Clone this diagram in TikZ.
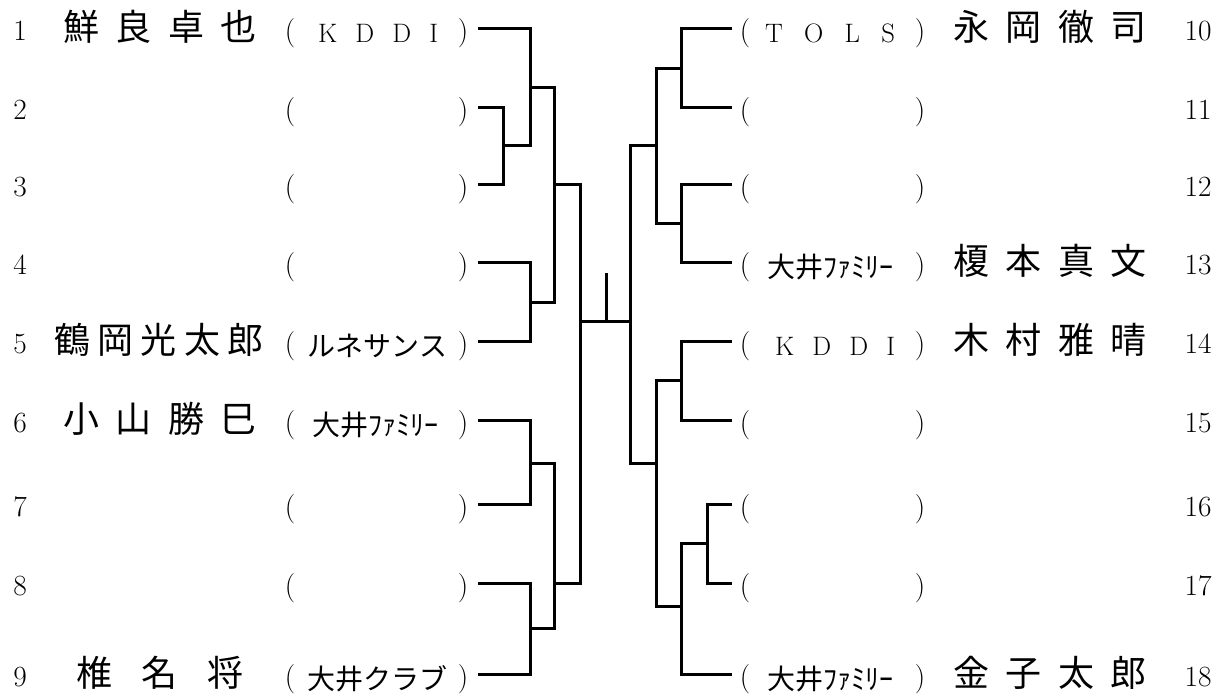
\documentclass[tikz,border=0pt]{standalone}
\usepackage{fontspec}
\newfontfamily\jp{Noto Sans CJK JP}
\begin{document}
\begin{tikzpicture}[x=0.75pt,y=-0.75pt,
  br/.style={line width=2.25pt, line join=miter},
  num/.style={inner sep=0pt, font=\fontsize{22}{26}\selectfont},
  nm/.style={inner sep=0pt, font=\jp\fontsize{27}{32}\selectfont},
  cl/.style={inner sep=0pt, font=\jp\fontsize{21}{25}\selectfont},
  lat/.style={inner sep=0pt, font=\fontsize{20}{24}\selectfont},
  par/.style={inner sep=0pt, font=\fontsize{22}{26}\selectfont}]
\useasboundingbox (0,0) rectangle (1226,693);
% left rows
\foreach \i/\y in {1/28,2/107,3/184,4/262,5/341,6/420,7/504,8/583,9/674}{
  \node[num] (num\i) at (20,\y+3) {\i};
  \node[par] (pl\i) at (290,\y+5) {(};
  \node[par] (pr\i) at (463,\y+5) {)};
  \coordinate (e\i) at (478,\y);
}
% right rows
\foreach \i/\y in {10/28,11/107,12/184,13/262,14/341,15/420,16/504,17/583,18/674}{
  \node[num] (num\i) at (1198,\y+3) {\i};
  \node[par] (pl\i) at (745,\y+5) {(};
  \node[par] (pr\i) at (920,\y+5) {)};
  \coordinate (f\i) at (732,\y);
}
% names left
\node[nm] (nm1) at (160,27) {\makebox[145.5pt]{鮮\hfill 良\hfill 卓\hfill 也}};
\node[nm] (nm5) at (159,340) {\makebox[157.5pt]{鶴\hfill 岡\hfill 光\hfill 太\hfill 郎}};
\node[nm] (nm6) at (160,419) {\makebox[145.5pt]{小\hfill 山\hfill 勝\hfill 巳}};
\node[nm] (nm9) at (160,673) {\makebox[126pt]{椎\hfill 名\hfill 将}};
% names right
\node[nm] (nm10) at (1050,27) {\makebox[145.5pt]{永\hfill 岡\hfill 徹\hfill 司}};
\node[nm] (nm13) at (1050,261) {\makebox[145.5pt]{榎\hfill 本\hfill 真\hfill 文}};
\node[nm] (nm14) at (1050,340) {\makebox[145.5pt]{木\hfill 村\hfill 雅\hfill 晴}};
\node[nm] (nm18) at (1050,673) {\makebox[145.5pt]{金\hfill 子\hfill 太\hfill 郎}};
% clubs left
\node[lat] (cl1) at (378,33) {\makebox[90pt]{K\hfill D\hfill D\hfill I}};
\node[cl] (cl5) at (377,346) {\makebox[105pt]{ル\hfill ネ\hfill サ\hfill ン\hfill ス}};
\node[cl] (cl6) at (375,425) {大井ﾌｧﾐﾘｰ};
\node[cl] (cl9) at (377,679) {\makebox[105pt]{大\hfill 井\hfill ク\hfill ラ\hfill ブ}};
% clubs right
\node[lat] (cl10) at (830,33) {\makebox[97.5pt]{T\hfill O\hfill L\hfill S}};
\node[cl] (cl13) at (830,267) {大井ﾌｧﾐﾘｰ};
\node[lat] (cl14) at (835,346) {\makebox[90pt]{K\hfill D\hfill D\hfill I}};
\node[cl] (cl18) at (830,679) {大井ﾌｧﾐﾘｰ};
% junction coordinates
\coordinate (J23) at (503,145);
\coordinate (J1) at (530,87);
\coordinate (J45) at (530,302);
\coordinate (JA) at (554,184);
\coordinate (J67) at (530,463);
\coordinate (J89) at (530,628);
\coordinate (JB) at (554,583);
\coordinate (JL) at (580,321);
\coordinate (K1011) at (681,68);
\coordinate (K1213) at (681,223);
\coordinate (KA) at (656,145);
\coordinate (K1415) at (681,380);
\coordinate (K1617) at (707,543);
\coordinate (K18) at (681,606);
\coordinate (KB) at (656,463);
\coordinate (KR) at (630,321);
\coordinate (T) at (606,273);
% left bracket
\draw[br] (e2) -| (J23) |- (e3);
\draw[br] (e1) -| (J1) |- (J23);
\draw[br] (e4) -| (J45) |- (e5);
\draw[br] (J1) -| (JA) |- (J45);
\draw[br] (e6) -| (J67) |- (e7);
\draw[br] (e8) -| (J89) |- (e9);
\draw[br] (J67) -| (JB) |- (J89);
\draw[br] (JA) -| (JL) |- (JB);
% right bracket
\draw[br] (f10) -| (K1011) |- (f11);
\draw[br] (f12) -| (K1213) |- (f13);
\draw[br] (K1011) -| (KA) |- (K1213);
\draw[br] (f14) -| (K1415) |- (f15);
\draw[br] (f16) -| (K1617) |- (f17);
\draw[br] (K1617) -| (K18) |- (f18);
\draw[br] (K1415) -| (KB) |- (K18);
\draw[br] (KA) -| (KR) |- (KB);
% final
\draw[br] (JL) -- (KR);
\draw[br] (T) -- (T |- JL);
\end{tikzpicture}
\end{document}
